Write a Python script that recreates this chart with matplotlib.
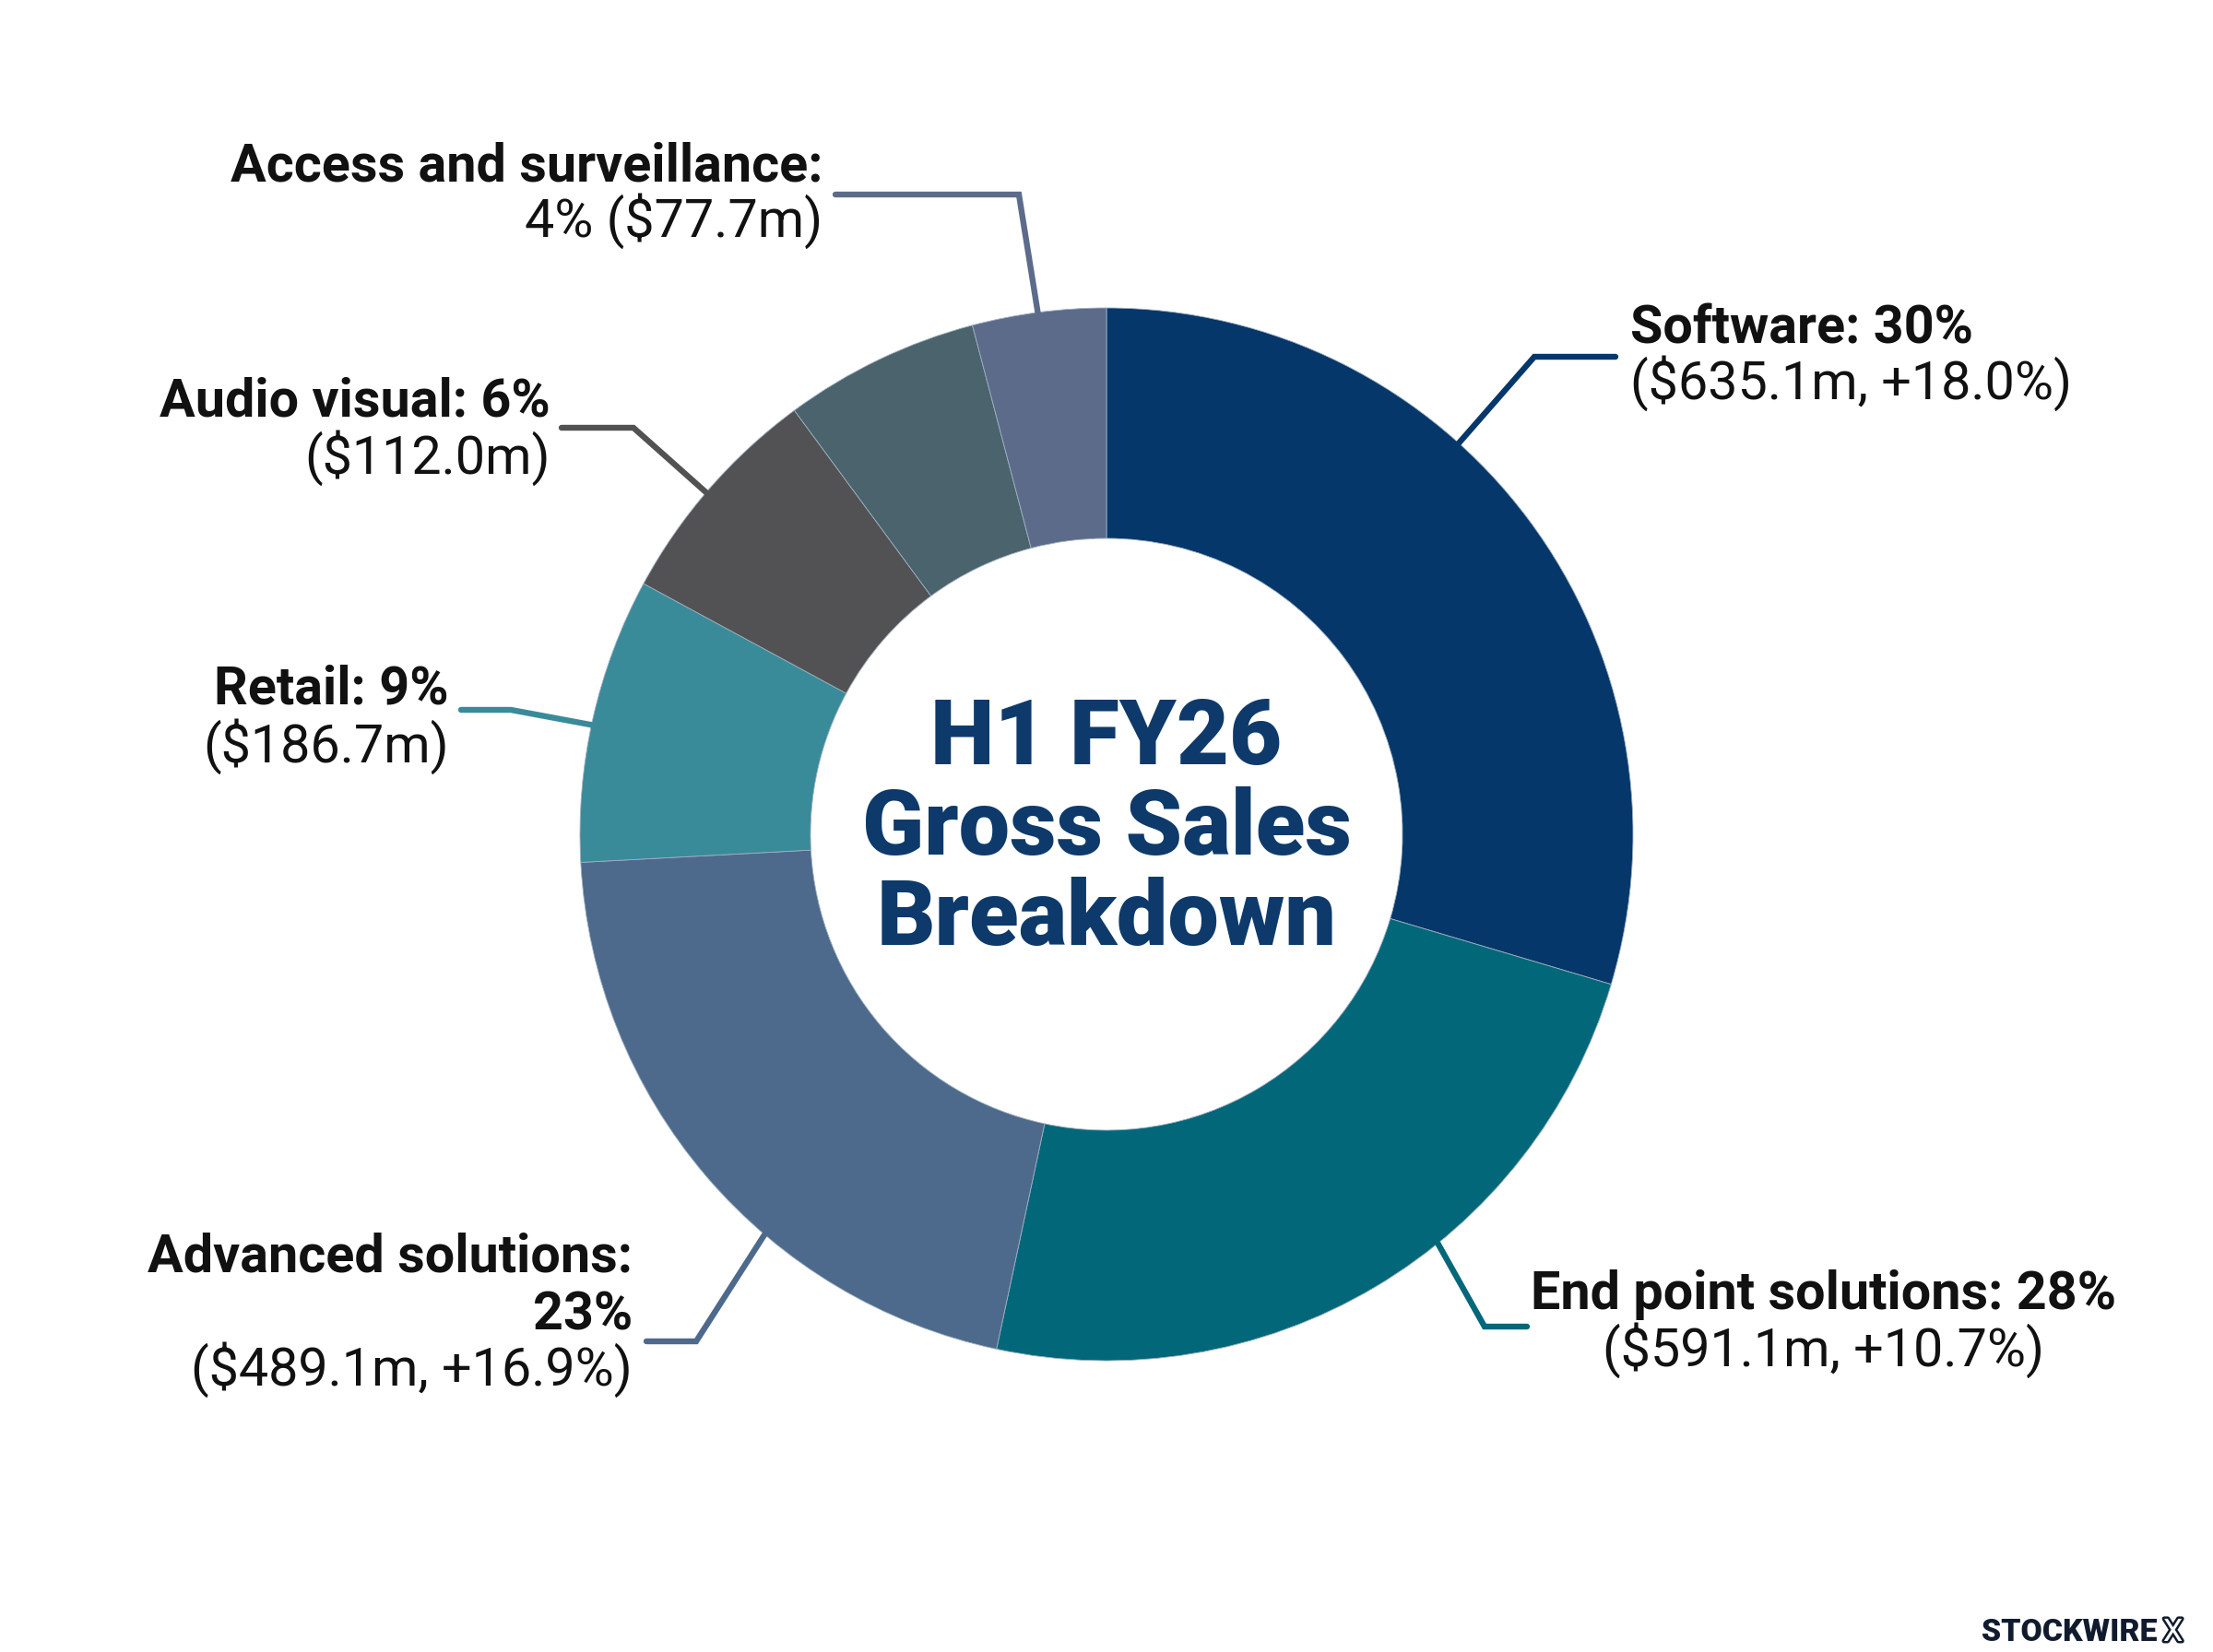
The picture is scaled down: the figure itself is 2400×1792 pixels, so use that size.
import numpy as np
import matplotlib
matplotlib.use("Agg")
import matplotlib.pyplot as plt
import matplotlib.patheffects as pe

W, H = 2400, 1792

# ring shares (percent of circle), clockwise from 12 o'clock
segments = ["Software", "End point solutions", "Advanced solutions", "Retail",
            "Audio visual", "Unlabelled", "Access and surveillance"]
shares = [29.6, 23.75, 20.8, 8.75, 7.0, 6.0, 4.1]
colors = ["#05376A", "#03677A", "#4D6A8D", "#3A8B99", "#525254", "#4A636D", "#5D6B8B"]

# label text (bold lines, regular lines)
label_bold = [["Software: 30%"], ["End point solutions: 28%"], ["Advanced solutions:", "23%"],
              ["Retail: 9%"], ["Audio visual: 6%"], [], ["Access and surveillance:"]]
label_value = ["($635.1m, +18.0%)", "($591.1m, +10.7%)", "($489.1m, +16.9%)",
               "($186.7m)", "($112.0m)", "", "4% ($77.7m)"]

# layout: centre / radii in pixels, y measured from the top
CX, CY = 1200, 905
R_OUT, R_IN = 571, 321

# leader: start angle (deg clockwise from top), elbow, end; text x, line ys, alignment
leaders = [
    (42, (1664, 387), (1752, 387), 1768, [357, 416], "left"),
    (141, (1610, 1439), (1656, 1439), 1978, [1405, 1465], "center"),
    (220.5, (755, 1455), (701, 1455), 686, [1364, 1427, 1486], "right"),
    (282, (554, 770), (500, 770), 487, [748, 810], "right"),
    (310.5, (687, 464), (609, 464), 597, [436, 497], "right"),
    None,
    (352.5, (1105, 211), (906, 211), 892, [181, 240], "right"),
]


def fy(y):
    # convert top-down pixel y to axes y
    return H - y


fig = plt.figure(figsize=(12, 8.96), dpi=200)
ax = fig.add_axes([0, 0, 1, 1])
ax.set_xlim(0, W)
ax.set_ylim(0, H)
ax.axis("off")

ax.pie(shares, colors=colors, startangle=90, counterclock=False,
       center=(CX, fy(CY)), radius=R_OUT,
       wedgeprops=dict(width=R_OUT - R_IN, edgecolor="#9fb0c0", linewidth=0.3))
ax.set_xlim(0, W)
ax.set_ylim(0, H)
ax.set_aspect("equal")

font = "Roboto"
for i, spec in enumerate(leaders):
    if spec is None:
        continue
    ang, elbow, end, tx, ys, ha = spec
    a = np.radians(ang)
    sx = CX + R_OUT * np.sin(a)
    sy = CY - R_OUT * np.cos(a)
    ax.plot([sx, elbow[0], end[0]], [fy(sy), fy(elbow[1]), fy(end[1])],
            color=colors[i], lw=2.3, solid_capstyle="round", solid_joinstyle="miter")
    lines = [(t, "bold") for t in label_bold[i]] + [(label_value[i], "normal")]
    for (txt, wt), y in zip(lines, ys):
        ax.text(tx, fy(y), txt, ha=ha, va="center", fontsize=20.7,
                fontweight=wt, family=font, color="#111111")

ax.text(CX, fy(900), "H1 FY26\nGross Sales\nBreakdown", ha="center", va="center",
        fontsize=35.5, fontweight="black", family=font, color="#0E3A6B", linespacing=1.05)

# watermark
ax.text(2340, fy(1771), "STOCKWIRE", ha="right", va="center", fontsize=12.2,
        fontweight="black", family=font, color="#111B2E")
ax.text(2346, fy(1771), "X", ha="left", va="center", fontsize=12.2,
        fontweight="normal", family=font, color="white",
        path_effects=[pe.Stroke(linewidth=1.8, foreground="#111B2E"), pe.Normal()])

fig.savefig("out.png", dpi=200, facecolor="white")
